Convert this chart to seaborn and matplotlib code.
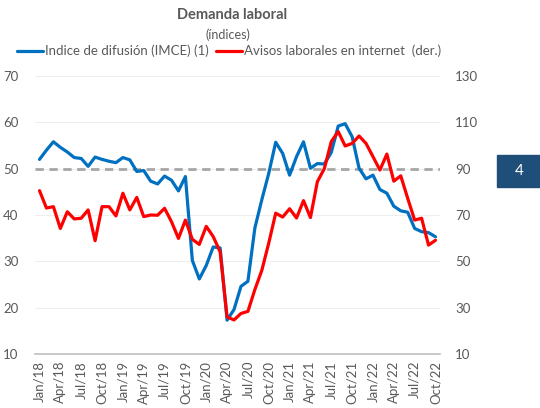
import matplotlib
matplotlib.use("Agg")
import matplotlib.pyplot as plt
import seaborn as sns
import pandas as pd
from matplotlib.patches import Rectangle

sns.set_style("white")
plt.rcParams['font.family'] = ['Lato', 'DejaVu Sans']

# Monthly data Jan/18 .. Oct/22 (58 months)
imce = [52.0, 54.0, 55.8, 54.6, 53.6, 52.4, 52.2, 50.5, 52.5, 52.0,
        51.6, 51.3, 52.4, 51.9, 49.4, 49.6, 47.3, 46.7, 48.4, 47.5,
        45.2, 48.3, 30.2, 26.2, 29.1, 33.1, 32.9, 17.3, 19.6, 24.6,
        25.7, 37.2, 43.3, 49.0, 55.7, 53.3, 48.6, 52.6, 55.8, 50.1,
        51.1, 51.0, 53.5, 59.2, 59.7, 56.9, 50.1, 47.8, 48.6, 45.5,
        44.7, 41.9, 40.9, 40.6, 37.1, 36.4, 36.2, 35.3]
avisos = [80.5, 73.0, 73.6, 64.2, 71.4, 68.3, 68.6, 72.2, 58.9, 73.6,
          73.6, 69.6, 79.4, 72.2, 77.6, 69.3, 70.0, 69.9, 72.9, 67.1,
          59.9, 67.8, 59.5, 57.3, 65.1, 60.7, 54.1, 26.0, 24.7, 27.5,
          28.4, 37.8, 46.1, 57.9, 70.8, 69.1, 72.7, 68.7, 76.2, 68.9,
          84.4, 90.0, 101.7, 106.0, 99.8, 100.9, 104.1, 100.9, 95.2, 89.4,
          96.3, 84.6, 86.9, 77.2, 67.8, 68.6, 57.0, 59.1]
tick_labels = ["Jan/18", "Apr/18", "Jul/18", "Oct/18", "Jan/19", "Apr/19", "Jul/19",
               "Oct/19", "Jan/20", "Apr/20", "Jul/20", "Oct/20", "Jan/21", "Apr/21",
               "Jul/21", "Oct/21", "Jan/22", "Apr/22", "Jul/22", "Oct/22"]
left_ticks = [10, 20, 30, 40, 50, 60, 70]
right_ticks = [10, 30, 50, 70, 90, 110, 130]
label_blue = "Indice de difusión (IMCE) (1)"
label_red = "Avisos laborales en internet  (der.)"

df = pd.DataFrame({"t": range(len(imce)), "imce": imce, "avisos": avisos})

gray = "#595959"
fig = plt.figure(figsize=(5.4, 4.08), dpi=100)
ax = fig.add_axes([35/540, 1-354/408, 405/540, 278/408])
ax2 = ax.twinx()

ax.set_ylim(10, 70)
ax.set_yticks(left_ticks)
for v in left_ticks:
    ax.axhline(v, color="#eeeeee", lw=0.8, zorder=0)
ax.axhline(50, color="#a6a6a6", lw=2, ls=(0, (3, 2)), zorder=1)

sns.lineplot(data=df, x="t", y="imce", ax=ax, color="#0070C0", lw=2.3,
             label=label_blue, legend=False, zorder=3)
sns.lineplot(data=df, x="t", y="avisos", ax=ax2, color="#FF0000", lw=2.3,
             label=label_red, legend=False, zorder=3)

ax2.set_ylim(10, 130)
ax2.set_yticks(right_ticks)
ax.set_xlim(-0.65, 57.65)
ax.set_xticks(range(0, 58, 3))
ax.set_xticklabels(tick_labels, rotation=90)

for a in (ax, ax2):
    for s in a.spines.values():
        s.set_visible(False)
    a.set_xlabel("")
    a.set_ylabel("")
    a.tick_params(length=0, labelsize=9.5, colors=gray)
ax.spines["bottom"].set_visible(True)
ax.spines["bottom"].set_color("#bfbfbf")
ax.spines["bottom"].set_linewidth(1.2)
ax.tick_params(axis="y", pad=12)
ax2.tick_params(axis="y", pad=11)
ax.tick_params(axis="x", pad=5)

fig.text(0.43, 1-15/408, "Demanda laboral", ha="center", va="center",
         fontsize=10.5, fontweight="bold", color=gray)
fig.text(0.423, 1-35/408, "(índices)", ha="center", va="center",
         fontsize=9, color=gray)

h1, l1 = ax.get_legend_handles_labels()
h2, l2 = ax2.get_legend_handles_labels()
fig.legend(h1 + h2, l1 + l2, loc="center", bbox_to_anchor=(229/540, 1-51/408),
           ncol=2, frameon=False, fontsize=9.5, handlelength=2.0,
           handletextpad=0.15, columnspacing=0.5, labelcolor=gray,
           borderpad=0, borderaxespad=0)

fig.patches.append(Rectangle((497/540, 1-187/408), 43/540, 32/408,
                             transform=fig.transFigure, color="#1F4E79"))
fig.text(519/540, 1-171/408, "4", ha="center", va="center", color="white",
         fontsize=11)

fig.savefig("out.png", dpi=100)
